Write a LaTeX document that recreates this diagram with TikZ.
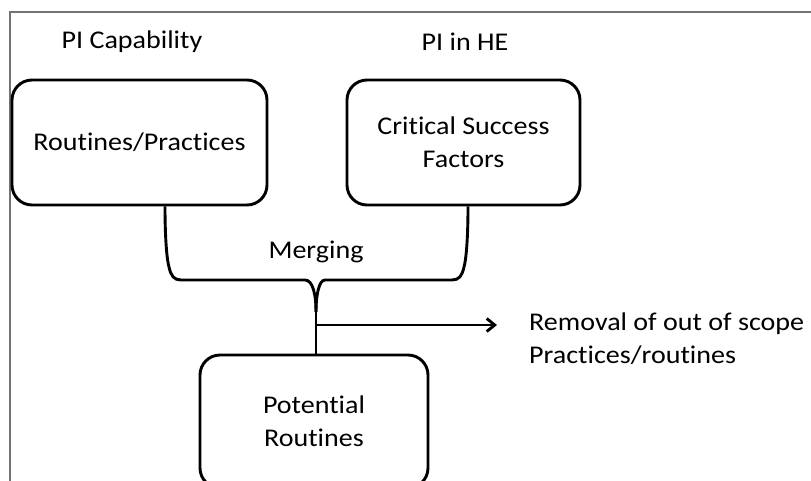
\documentclass[tikz,border=0pt]{standalone}
\usepackage{fontspec}
\setmainfont{Carlito}[FakeStretch=1.1,Ligatures=NoCommon]
\usetikzlibrary{arrows.meta,calc}
\begin{document}
\begin{tikzpicture}[x=1pt,y=-1pt,
  txt/.style={font=\fontsize{25.5}{33}\selectfont},
  box/.style={txt, draw, line width=2.9pt, rounded corners=20pt, align=center, inner sep=0pt},
  lbl/.style={txt, inner sep=0pt},
  conn/.style={line width=2.9pt},
  frame/.style={draw=black!55, line width=1.4pt}]
\useasboundingbox (0,0) rectangle (811,480);
% outer frame (cropped)
\coordinate (f0) at (10,481);
\coordinate (f1) at (10,12);
\coordinate (f2) at (812,12);
\draw[frame] (f0) -- (f1) -- (f2);
% boxes
\node[box, minimum width=255pt, minimum height=125pt] (b1) at (139.5,142.5) {Routines/Practices};
\node[box, minimum width=233pt, minimum height=125pt] (b2) at (463.5,142.5) {Critical Success\\Factors};
\node[box, minimum width=228pt, minimum height=133pt] (b3) at (314,421.5) {Potential\\Routines};
% headings
\node[lbl, anchor=base] (h1) at (132,48.3) {PI Capability};
\node[lbl, anchor=base] (h2) at (465,50) {PI in HE};
\node[lbl, anchor=base] (mg) at (316,258.3) {Merging};
\node[lbl, anchor=west, align=left] (rm) at (529,338.5) {Removal of out of scope\\Practices/routines};
% merging brace
\coordinate (m) at (316,312);
\draw[conn] ([xshift=25.5pt]b1.south) .. controls (165,240) and (167,260) .. (169,267)
  .. controls (171,276) and (174,280) .. (181,280) -- (305,280)
  .. controls (313,280) and (316,295) .. (m);
\draw[conn] ([xshift=4.5pt]b2.south) .. controls (468,240) and (466,260) .. (464,267)
  .. controls (462,276) and (459,280) .. (452,280) -- (325,280)
  .. controls (319,280) and (316,295) .. (m);
\draw[conn] (m) -- (m |- b3.north);
% removal arrow
\coordinate (a0) at (316,325);
\coordinate (a1) at (497,325);
\draw[conn, -{Straight Barb[length=8pt,width=13pt]}] (a0) -- (a1);
\end{tikzpicture}
\end{document}
